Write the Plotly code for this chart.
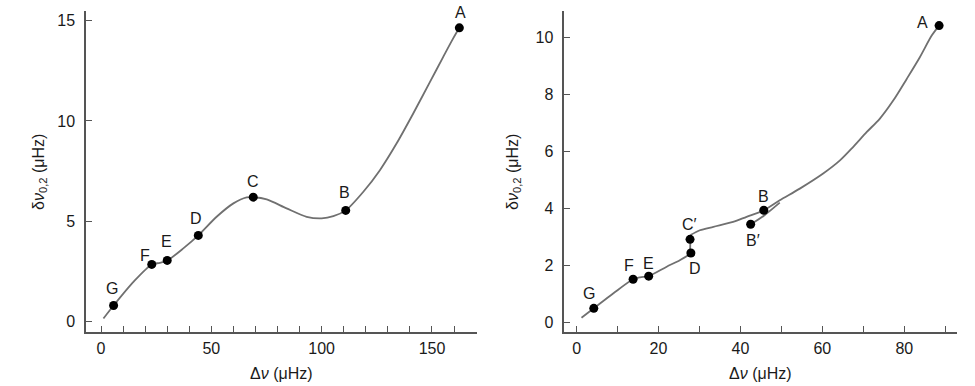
import plotly.graph_objects as go

# ---------------- data: left panel ----------------
left_names = ["A", "B", "C", "D", "E", "F", "G"]
left_x = [162.4, 110.9, 69.0, 44.1, 30.0, 23.0, 5.7]
left_y = [14.65, 5.53, 6.19, 4.28, 3.03, 2.83, 0.78]
left_curve_x = [1.1, 5.7, 14.7, 23.0, 26.7, 30.1, 37.3, 44.1, 52.4, 60.0, 66.0, 69.0, 75.1,
                84.1, 93.2, 100.0, 105.3, 110.9, 118.9, 126.4, 134.0, 141.5, 149.1, 155.1,
                159.6, 162.4]
left_curve_y = [0.13, 0.78, 1.96, 2.83, 2.91, 3.03, 3.63, 4.28, 5.21, 5.88, 6.18, 6.19, 6.08,
                5.63, 5.21, 5.13, 5.24, 5.53, 6.46, 7.54, 8.88, 10.37, 11.95, 13.2,
                14.12, 14.65]
# label offsets (px)
left_label_dx = [1, -1, 0, -2, -1, -7, -2]
left_label_dy = [15, 18, 16, 17, 19, 9, 17]

# ---------------- data: right panel ----------------
right_names = ["A", "B", "B\u2032", "C\u2032", "D", "E", "F", "G"]
right_x = [88.5, 45.7, 42.5, 27.7, 27.9, 17.6, 13.8, 4.2]
right_y = [10.41, 3.93, 3.44, 2.91, 2.43, 1.62, 1.51, 0.49]
right_label_dx = [-17, 0, 2, -1, 4, 0, -4, -5]
right_label_dy = [3, 14, -16, 15, -15, 13, 14, 15]

seg1_x = [1.2, 4.2, 9.0, 13.8, 15.5, 17.6, 22.0, 25.2, 27.7]
seg1_y = [0.16, 0.49, 1.02, 1.51, 1.58, 1.62, 1.95, 2.18, 2.39]
seg2_x = [27.7, 27.8]
seg2_y = [2.39, 3.06]
seg3_x = [27.8, 30.1, 33.4, 38.2, 41.5, 45.7, 49.6, 54.5, 60.2, 64.3, 67.5, 70.8, 74.0,
          77.3, 80.6, 83.8, 86.7, 88.5]
seg3_y = [3.06, 3.23, 3.35, 3.52, 3.70, 3.93, 4.28, 4.69, 5.22, 5.68, 6.15, 6.67, 7.14,
          7.78, 8.54, 9.30, 10.06, 10.41]
seg4_x = [42.5, 45.8, 49.6]
seg4_y = [3.44, 3.75, 4.20]

LINE = "#707070"
TXT = "#1a1a1a"
AX = "#555555"
FONT = "Liberation Sans, Arial, sans-serif"

fig = go.Figure()

def curve(x, y, xa, ya, shape="spline"):
    fig.add_trace(go.Scatter(x=x, y=y, mode="lines", xaxis=xa, yaxis=ya,
                             line=dict(color=LINE, width=1.8, shape=shape, smoothing=0.8),
                             hoverinfo="skip", showlegend=False))

def points(x, y, xa, ya):
    fig.add_trace(go.Scatter(x=x, y=y, mode="markers", xaxis=xa, yaxis=ya,
                             marker=dict(color="black", size=9),
                             showlegend=False))

curve(left_curve_x, left_curve_y, "x", "y")
points(left_x, left_y, "x", "y")

curve(seg1_x, seg1_y, "x2", "y2")
curve(seg2_x, seg2_y, "x2", "y2", shape="linear")
curve(seg3_x, seg3_y, "x2", "y2")
curve(seg4_x, seg4_y, "x2", "y2")
points(right_x, right_y, "x2", "y2")

annotations = []
for n, x, y, dx, dy in zip(left_names, left_x, left_y, left_label_dx, left_label_dy):
    annotations.append(dict(text=n, x=x, y=y, xref="x", yref="y", xshift=dx, yshift=dy,
                            xanchor="center", yanchor="middle",
                            showarrow=False, font=dict(family=FONT, size=16, color=TXT)))
for n, x, y, dx, dy in zip(right_names, right_x, right_y, right_label_dx, right_label_dy):
    annotations.append(dict(text=n, x=x, y=y, xref="x2", yref="y2", xshift=dx, yshift=dy,
                            xanchor="center", yanchor="middle",
                            showarrow=False, font=dict(family=FONT, size=16, color=TXT)))

# axis titles
W, H = 975, 386
xt = "\u0394<i>\u03bd</i> (\u03bcHz)"
yt = "\u03b4<i>\u03bd</i><sub>0,2</sub> (\u03bcHz)"
tf = dict(family=FONT, size=16, color=TXT)
annotations += [
    dict(text=xt, x=281.5 / W, y=1 - 373 / H, xref="paper", yref="paper", showarrow=False,
         xanchor="center", yanchor="middle", font=tf),
    dict(text=xt, x=760 / W, y=1 - 373 / H, xref="paper", yref="paper", showarrow=False,
         xanchor="center", yanchor="middle", font=tf),
    dict(text=yt, x=39 / W, y=1 - 172 / H, xref="paper", yref="paper", showarrow=False,
         xanchor="center", yanchor="middle", textangle=-90, font=tf),
    dict(text=yt, x=513 / W, y=1 - 172 / H, xref="paper", yref="paper", showarrow=False,
         xanchor="center", yanchor="middle", textangle=-90, font=tf),
]

common_x = dict(showgrid=False, zeroline=False, showline=True, linecolor=AX, linewidth=1.5,
                ticks="inside", ticklen=6, tickcolor=AX, tickwidth=1.2,
                tickfont=dict(family=FONT, size=16, color=TXT), ticklabelstandoff=1)
common_y = dict(showgrid=False, zeroline=False, showline=True, linecolor=AX, linewidth=1.5,
                ticks="inside", ticklen=6, tickcolor=AX, tickwidth=1.2,
                tickfont=dict(family=FONT, size=16, color=TXT), ticklabelstandoff=6)
minor = dict(dtick=10, tick0=0, ticks="inside", ticklen=6, tickcolor=AX, tickwidth=1.2)

y_dom = [1 - 331.7 / H, 1 - 10.8 / H]

fig.update_layout(
    width=W, height=H,
    margin=dict(l=0, r=0, t=0, b=0),
    paper_bgcolor="white", plot_bgcolor="white",
    showlegend=False,
    xaxis=dict(**common_x, anchor="y", domain=[86 / W, 477 / W], range=[-6.8, 170.4],
               tick0=0, dtick=50, minor=minor),
    yaxis=dict(**common_y, anchor="x", domain=y_dom, range=[-0.53, 15.5], tick0=0, dtick=5),
    xaxis2=dict(**common_x, anchor="y2", domain=[564.3 / W, 956.7 / W], range=[-3.0, 92.8],
                tick0=0, dtick=20, minor=minor),
    yaxis2=dict(**common_y, anchor="x2", domain=y_dom, range=[-0.33, 10.93], tick0=0, dtick=2),
    annotations=annotations,
)

fig.write_html("out.html", config={"displayModeBar": False},
               post_script="document.body.style.margin='0';document.body.style.overflow='hidden';")
